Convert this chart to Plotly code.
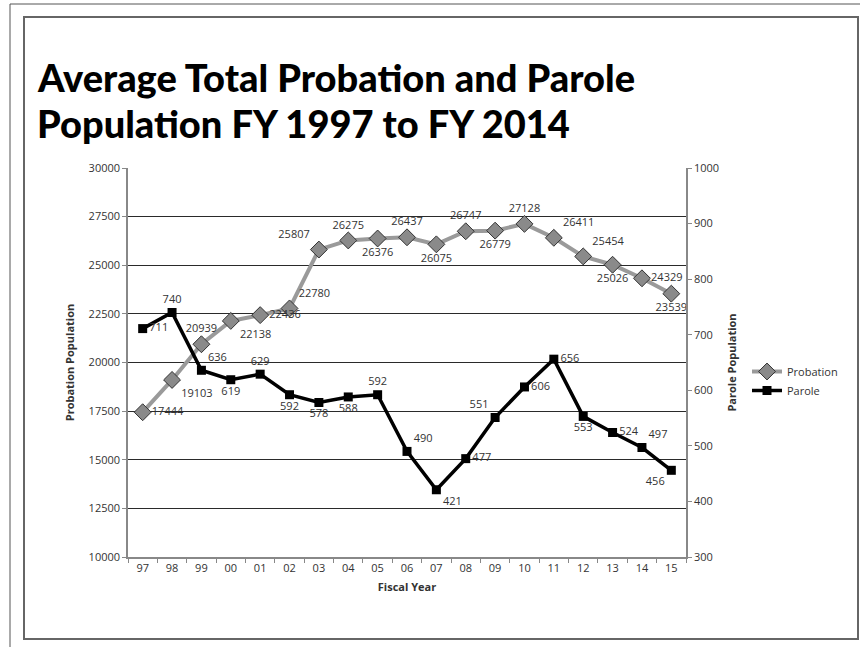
import plotly.graph_objects as go

years = ["97", "98", "99", "00", "01", "02", "03", "04", "05", "06",
         "07", "08", "09", "10", "11", "12", "13", "14", "15"]
probation = [17444, 19103, 20939, 22138, 22436, 22780, 25807, 26275, 26376, 26437,
             26075, 26747, 26779, 27128, 26411, 25454, 25026, 24329, 23539]
parole = [711, 740, 636, 619, 629, 592, 578, 588, 592, 490,
          421, 477, 551, 606, 656, 553, 524, 497, 456]
probation_pos = ["middle right", "bottom right", "top center", "bottom right", "middle right",
                 "top right", "top left", "top center", "bottom center", "top center",
                 "bottom center", "top center", "bottom center", "top center", "top right",
                 "top right", "bottom center", "middle right", "bottom center"]
parole_pos = ["middle right", "top center", "top right", "bottom center", "top center",
              "bottom center", "bottom center", "bottom center", "top center", "top right",
              "bottom right", "middle right", "top left", "middle right", "middle right",
              "bottom center", "middle right", "top right", "bottom left"]
title_lines = ["Average Total Probation and Parole", "Population FY 1997 to FY 2014"]

W, H = 860, 647
L, R, T, B = 128, 686, 168, 557


def px(x):
    return (x - L) / (R - L)


def py(y):
    return (B - y) / (B - T)


FONT = "'Open Sans', sans-serif"
TFONT = "Lato, 'Open Sans', sans-serif"

fig = go.Figure()
fig.add_trace(go.Scatter(
    x=years, y=probation, name="Probation", mode="lines+markers+text",
    line=dict(color="#9a9a9a", width=4),
    marker=dict(symbol="diamond", size=13, color="#8a8a8a", line=dict(color="#333333", width=1)),
    text=[str(v) for v in probation], textposition=probation_pos,
    textfont=dict(size=11, color="#333333", family=FONT),
    yaxis="y", cliponaxis=False,
))
fig.add_trace(go.Scatter(
    x=years, y=parole, name="Parole", mode="lines+markers+text",
    line=dict(color="#000000", width=3.5),
    marker=dict(symbol="square", size=9, color="#000000"),
    text=[str(v) for v in parole], textposition=parole_pos,
    textfont=dict(size=11, color="#333333", family=FONT),
    yaxis="y2", cliponaxis=False,
))

shapes = [
    dict(type="line", xref="paper", yref="paper", x0=px(10), x1=px(860), y0=py(4), y1=py(4),
         line=dict(color="#555555", width=1)),
    dict(type="line", xref="paper", yref="paper", x0=px(10), x1=px(10), y0=py(4), y1=py(647),
         line=dict(color="#555555", width=1)),
    dict(type="rect", xref="paper", yref="paper", x0=px(24), x1=px(858), y0=py(17), y1=py(639),
         line=dict(color="#666666", width=2), layer="below"),
]

annotations = []
for line_text, ycen in zip(title_lines, [77, 123]):
    annotations.append(dict(
        text=line_text, xref="paper", yref="paper", x=px(35), y=py(ycen),
        xanchor="left", yanchor="middle", align="left", showarrow=False,
        font=dict(size=38, color="#000000", family=TFONT, weight=900),
    ))

fig.update_layout(
    width=W, height=H,
    margin=dict(l=L, r=W - R, t=T, b=H - B),
    paper_bgcolor="white", plot_bgcolor="white",
    font=dict(family=FONT, size=11, color="#333333"),
    showlegend=True,
    legend=dict(x=px(747), y=py(381), xanchor="left", yanchor="middle",
                font=dict(size=11, color="#333333", family=FONT),
                bgcolor="rgba(0,0,0,0)", tracegroupgap=0, itemwidth=30),
    xaxis=dict(type="category", range=[-0.5, 18.5], showgrid=False, showline=True,
               linecolor="#888888", linewidth=1.5, ticks="outside", ticklen=4,
               tickcolor="#888888", tickson="boundaries",
               tickfont=dict(size=11, color="#333333"),
               title=dict(text="<b>Fiscal Year</b>", font=dict(size=11, color="#333333"), standoff=9)),
    yaxis=dict(range=[10000, 30000], dtick=2500, tickformat="d", showgrid=True,
               gridcolor="#2a2a2a", gridwidth=1,
               zeroline=False, showline=True, linecolor="#888888", linewidth=1.5,
               ticks="outside", ticklen=4, tickcolor="#888888",
               tickfont=dict(size=11, color="#333333"),
               title=dict(text="<b>Probation Population</b>", font=dict(size=11, color="#333333"), standoff=12)),
    yaxis2=dict(range=[300, 1000], dtick=100, tickformat="d", overlaying="y", side="right", showgrid=False,
                zeroline=False, showline=True, linecolor="#888888", linewidth=1.5,
                ticks="outside", ticklen=4, tickcolor="#888888",
                tickfont=dict(size=11, color="#333333"),
                title=dict(text="<b>Parole Population</b>", font=dict(size=11, color="#333333"), standoff=10)),
    shapes=shapes,
    annotations=annotations,
)

fig.write_html("out.html", config={"displayModeBar": False},
               post_script="document.body.style.margin='0';")
